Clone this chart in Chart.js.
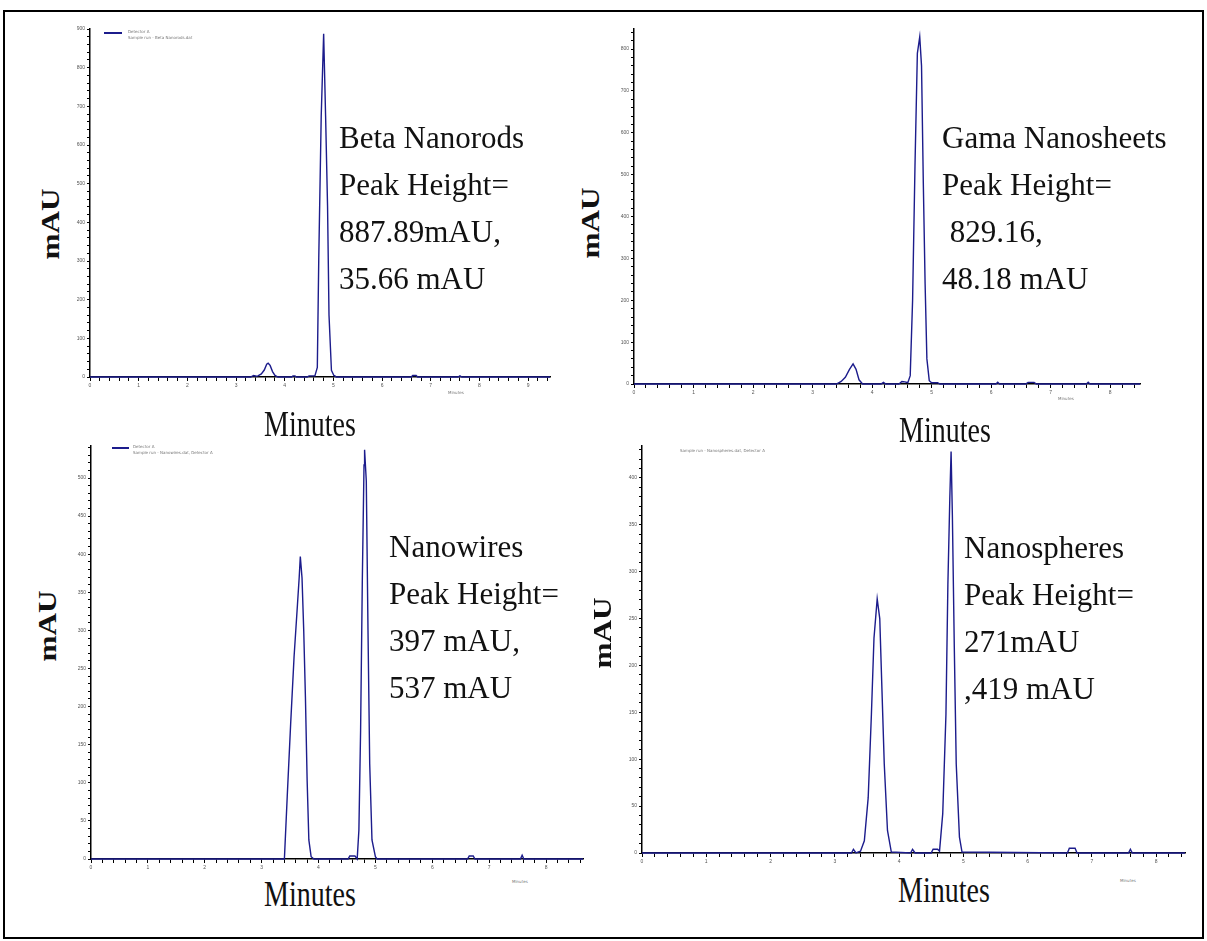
<!DOCTYPE html>
<html>
<head>
<meta charset="utf-8">
<script src="https://cdn.jsdelivr.net/npm/chart.js@4.4.1/dist/chart.umd.min.js"></script>
<style>
body { margin: 0; background: #fff; }
#page { position: relative; width: 1207px; height: 941px; overflow: hidden; background: #fff; }
#frame { position: absolute; left: 3px; top: 10px; width: 1197px; height: 925px; border: 2px solid #000; }
canvas { position: absolute; }
.note { position: absolute; font-family: "Liberation Serif", "Times New Roman", serif; font-size: 31px; line-height: 47px; color: #111; white-space: pre; }
.xt { position: absolute; font-family: "Liberation Serif", "Times New Roman", serif; font-size: 28px; line-height: 28px; color: #111; white-space: pre; transform: translate(-50%, -50%) scaleY(1.3); }
.yt { position: absolute; font-family: "Liberation Serif", "Times New Roman", serif; font-size: 25px; line-height: 25px; font-weight: bold; color: #111; white-space: pre; transform: translate(-50%, -50%) rotate(-90deg) scaleX(1.25); }
.tiny { position: absolute; font-family: "DejaVu Sans", sans-serif; font-size: 4px; line-height: 5px; color: #777; white-space: pre; }
.swatch { position: absolute; height: 2px; background: #1c1c8c; }
</style>
</head>
<body>
<div id="page">
  <div id="frame"></div>

  <canvas id="betaChart" width="486" height="367" style="left:68px; top:24px;"></canvas>
  <canvas id="gamaChart" width="532" height="374" style="left:612px; top:24px;"></canvas>
  <canvas id="wiresChart" width="518" height="432" style="left:69px; top:441px;"></canvas>
  <canvas id="spheresChart" width="569" height="426" style="left:620px; top:441px;"></canvas>

  <div class="note" style="left:339px; top:114px;">Beta Nanorods
Peak Height=
887.89mAU,
35.66 mAU</div>
  <div class="note" style="left:942px; top:114px;">Gama Nanosheets
Peak Height=
 829.16,
48.18 mAU</div>
  <div class="note" style="left:389px; top:523px;">Nanowires
Peak Height=
397 mAU,
537 mAU</div>
  <div class="note" style="left:964px; top:524px;">Nanospheres
Peak Height=
271mAU
,419 mAU</div>

  <div class="yt" style="left:50px; top:224px;">mAU</div>
  <div class="yt" style="left:590px; top:223px;">mAU</div>
  <div class="yt" style="left:47px; top:626px;">mAU</div>
  <div class="yt" style="left:602px; top:633px;">mAU</div>

  <div class="xt" style="left:310px; top:424px;">Minutes</div>
  <div class="xt" style="left:945px; top:430px;">Minutes</div>
  <div class="xt" style="left:310px; top:894px;">Minutes</div>
  <div class="xt" style="left:944px; top:890px;">Minutes</div>

  <div class="tiny" style="left:448px; top:390px;">Minutes</div>
  <div class="tiny" style="left:1058px; top:396px;">Minutes</div>
  <div class="tiny" style="left:512px; top:879px;">Minutes</div>
  <div class="tiny" style="left:1120px; top:878px;">Minutes</div>

  <div class="swatch" style="left:104px; top:32px; width:18px;"></div>
  <div class="tiny" style="left:128px; top:29px;">Detector A</div>
  <div class="tiny" style="left:128px; top:35px;">Sample run - Beta Nanorods.dat</div>
  <div class="swatch" style="left:112px; top:447px; width:17px;"></div>
  <div class="tiny" style="left:133px; top:444px;">Detector A</div>
  <div class="tiny" style="left:133px; top:450px;">Sample run - Nanowires.dat, Detector A</div>
  <div class="tiny" style="left:680px; top:448px;">Sample run - Nanospheres.dat, Detector A</div>
</div>

<script>
// retention time (min) and absorbance (mAU)
var beta_t = [0, 3.30, 3.36, 3.42, 3.45, 3.52, 3.58, 3.63, 3.66, 3.70, 3.75, 3.80, 3.86, 4.14, 4.17, 4.21, 4.24, 4.46, 4.50, 4.58, 4.62, 4.67, 4.70, 4.75, 4.80, 4.84, 4.88, 4.91, 4.96, 5.01, 5.03, 5.06, 6.60, 6.63, 6.70, 6.73, 7.56, 7.60, 7.64, 9.45];
var beta_v = [0, 0, 4, 2, 3, 8, 18, 33, 35.66, 30, 14, 4, 0, 0, 3, 3, 0, 0, 3, 3, 3, 25, 310, 675, 887.89, 675, 443, 160, 17, 4, 3, 0, 0, 4, 4, 0, 0, 3, 0, 0];

var gama_t = [0, 3.40, 3.48, 3.55, 3.62, 3.68, 3.73, 3.78, 3.84, 4.15, 4.19, 4.23, 4.45, 4.50, 4.55, 4.60, 4.64, 4.68, 4.72, 4.76, 4.80, 4.83, 4.86, 4.89, 4.92, 4.96, 5.00, 5.10, 5.14, 6.08, 6.11, 6.14, 6.58, 6.62, 6.72, 6.76, 7.60, 7.63, 7.66, 8.5];
var gama_v = [0, 0, 6, 16, 35, 48.18, 35, 10, 0, 0, 4, 0, 0, 6, 5, 3, 20, 200, 520, 790, 829.16, 760, 480, 240, 60, 8, 3, 3, 0, 0, 4, 0, 0, 4, 4, 0, 0, 4, 0, 0];

var wires_t = [0, 3.40, 3.45, 3.51, 3.57, 3.63, 3.66, 3.68, 3.71, 3.74, 3.77, 3.80, 3.83, 3.87, 3.92, 4.52, 4.55, 4.64, 4.68, 4.71, 4.74, 4.77, 4.80, 4.81, 4.84, 4.87, 4.90, 4.94, 5.00, 5.03, 6.62, 6.65, 6.72, 6.75, 7.55, 7.58, 7.61, 8.65];
var wires_v = [0, 0, 82, 177, 265, 334, 369, 397, 369, 300, 212, 103, 25, 3, 0, 0, 4, 4, 0, 38, 169, 365, 517, 537, 496, 300, 125, 25, 3, 0, 0, 4, 4, 0, 0, 5, 0, 0];

var spheres_t = [0, 3.26, 3.29, 3.33, 3.40, 3.46, 3.52, 3.57, 3.61, 3.66, 3.70, 3.73, 3.77, 3.82, 3.88, 4.18, 4.21, 4.25, 4.50, 4.53, 4.60, 4.63, 4.68, 4.73, 4.76, 4.79, 4.81, 4.83, 4.86, 4.89, 4.94, 4.98, 6.62, 6.65, 6.74, 6.77, 7.57, 7.60, 7.63, 8.45];
var spheres_v = [0, 0, 4, 0, 2, 13, 59, 148, 229, 271, 250, 183, 95, 24, 1, 0, 4, 0, 0, 4, 4, 2, 42, 148, 286, 378, 428, 360, 219, 95, 17, 1, 0, 5, 5, 0, 0, 4, 0, 0];

// axis ranges: [x max, y max, y label step, y minor step]
var beta_axis = [9.45, 900, 100, 20];
var gama_axis = [8.5, 848, 100, 20];
var wires_axis = [8.65, 542, 50, 10];
var spheres_axis = [8.45, 434, 50, 10];

function toPoints(t, v) {
    var pts = [];
    for (var i = 0; i < t.length; i++) {
        pts.push({x: t[i], y: v[i]});
    }
    return pts;
}

function isWhole(val, step) {
    var r = val / step;
    return Math.abs(r - Math.round(r)) < 1e-6;
}

function draw_chromatogram(id, t, v, axis) {
    var ctx = document.getElementById(id);
    return new Chart(ctx, {
        type: 'line',
        data: {
            datasets: [
                {
                    data: toPoints(t, v),
                    borderColor: "#1c1c8c",
                    borderWidth: 1.4,
                    pointRadius: 0,
                    tension: 0,
                    fill: false,
                    clip: 4
                }
            ]
        },
        options: {
            responsive: false,
            animation: false,
            devicePixelRatio: 1,
            layout: { padding: { left: 0, top: 4, right: 4, bottom: 0 } },
            plugins: {
                legend: { display: false },
                tooltip: { enabled: false }
            },
            scales: {
                x: {
                    type: 'linear',
                    min: 0,
                    max: axis[0],
                    afterFit: function (s) { s.height = 14; },
                    border: { color: "#000", width: 1.5 },
                    grid: { drawOnChartArea: false, tickLength: 4, color: "#000", lineWidth: 1 },
                    ticks: {
                        stepSize: 0.2,
                        autoSkip: false,
                        maxRotation: 0,
                        includeBounds: false,
                        padding: 2,
                        color: "#555",
                        font: { size: 5 },
                        callback: function (val) { return isWhole(val, 1) ? String(Math.round(val)) : ''; }
                    }
                },
                y: {
                    min: 0,
                    max: axis[1],
                    afterFit: function (s) { s.width = 22; },
                    border: { color: "#000", width: 1.5 },
                    grid: { drawOnChartArea: false, tickLength: 3, color: "#000", lineWidth: 1 },
                    ticks: {
                        stepSize: axis[3],
                        autoSkip: false,
                        includeBounds: false,
                        padding: 2,
                        color: "#555",
                        font: { size: 5 },
                        callback: function (val) { return isWhole(val, axis[2]) ? String(val) : ''; }
                    }
                }
            }
        }
    });
}

var betaChart = draw_chromatogram("betaChart", beta_t, beta_v, beta_axis);
var gamaChart = draw_chromatogram("gamaChart", gama_t, gama_v, gama_axis);
var wiresChart = draw_chromatogram("wiresChart", wires_t, wires_v, wires_axis);
var spheresChart = draw_chromatogram("spheresChart", spheres_t, spheres_v, spheres_axis);
</script>
</body>
</html>
